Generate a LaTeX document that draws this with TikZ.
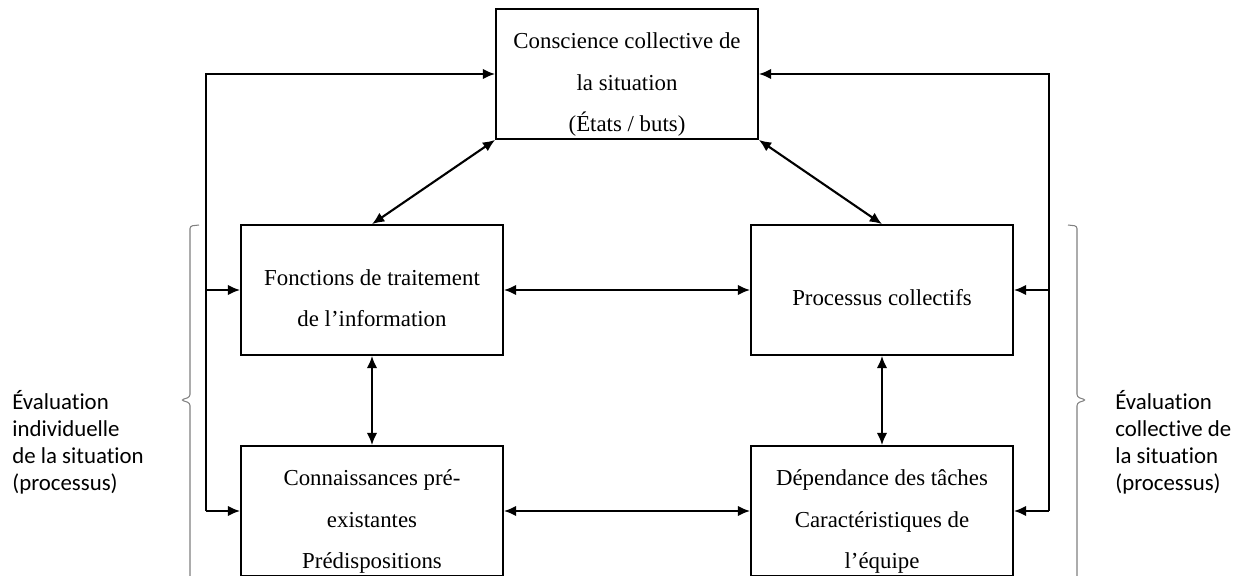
\documentclass[tikz,border=0pt]{standalone}
\usepackage{fontspec}
\setmainfont{Liberation Serif}
\newfontfamily\labelfont[Ligatures=NoCommon]{Carlito}
\usetikzlibrary{positioning,arrows.meta}
\tikzset{>={Latex[length=7pt,width=6pt]}}
\newcommand{\boxlines}[1]{\raisebox{0pt}[\height][\dimexpr\depth-9pt\relax]{\begin{tabular}{@{}c@{}}#1\end{tabular}}}
\tikzset{
  blocbox/.style={draw, line width=1pt, minimum width=5.24cm, minimum height=2.6cm,
    inner sep=0pt, font=\fontsize{13}{23.5}\selectfont},
  fleche/.style={<->, line width=1.2pt},
  entree/.style={->, line width=1.2pt},
  accolade/.style={draw=gray, line width=0.6pt, rounded corners=1.5pt},
  evallabel/.style={anchor=west, inner sep=0pt, align=left, font=\labelfont\fontsize{13}{15.4}\selectfont}
}

\begin{document}
\begin{tikzpicture}[x=0.02cm,y=-0.02cm]
    \useasboundingbox (0,0) rectangle (1243,575);
    \clip (0,0) rectangle (1243,575);
    %%%% boxes
    \node[blocbox] (situation) at (627,74) {\boxlines{Conscience collective de\\la situation\\(États / buts)}};
    \node[blocbox] (fonctions) at (372,290) {\boxlines{Fonctions de traitement\\de l’information}};
    \node[blocbox] (processus) at (882,290) {\boxlines{Processus collectifs}};
    \node[blocbox] (connaissances) at (372,511) {\boxlines{Connaissances pré-\\existantes\\Prédispositions}};
    \node[blocbox] (dependance) at (882,511) {\boxlines{Dépendance des tâches\\Caractéristiques de\\l’équipe}};
    %%%% links between boxes
    \draw[fleche] (situation.south west) -- (fonctions.north);
    \draw[fleche] (situation.south east) -- (processus.north);
    \draw[fleche] (fonctions.east) -- (processus.west);
    \draw[fleche] (connaissances.east) -- (dependance.west);
    \draw[fleche] (fonctions.south) -- (connaissances.north);
    \draw[fleche] (processus.south) -- (dependance.north);
    %%%% feedback lines
    \coordinate (gauche) at (206,511);
    \coordinate (droite) at (1049,511);
    \draw[entree] (gauche) |- (situation.west);
    \draw[entree] (gauche |- fonctions.west) -- (fonctions.west);
    \draw[entree] (gauche) -- (connaissances.west);
    \draw[entree] (droite) |- (situation.east);
    \draw[entree] (droite |- processus.east) -- (processus.east);
    \draw[entree] (droite) -- (dependance.east);
    %%%% brackets and labels
    \draw[accolade] (199,225) -- (190,226) -- (190,397) -- (181,400) -- (190,403) -- (190,590);
    \draw[accolade] (1068,225) -- (1077,226) -- (1077,397) -- (1086,400) -- (1077,403) -- (1077,590);
    \node[evallabel] (evalindiv) at (12,442) {Évaluation\\individuelle\\de la situation\\(processus)};
    \node[evallabel] (evalcoll) at (1115,442) {Évaluation\\collective de\\la situation\\(processus)};
\end{tikzpicture}
\end{document}
